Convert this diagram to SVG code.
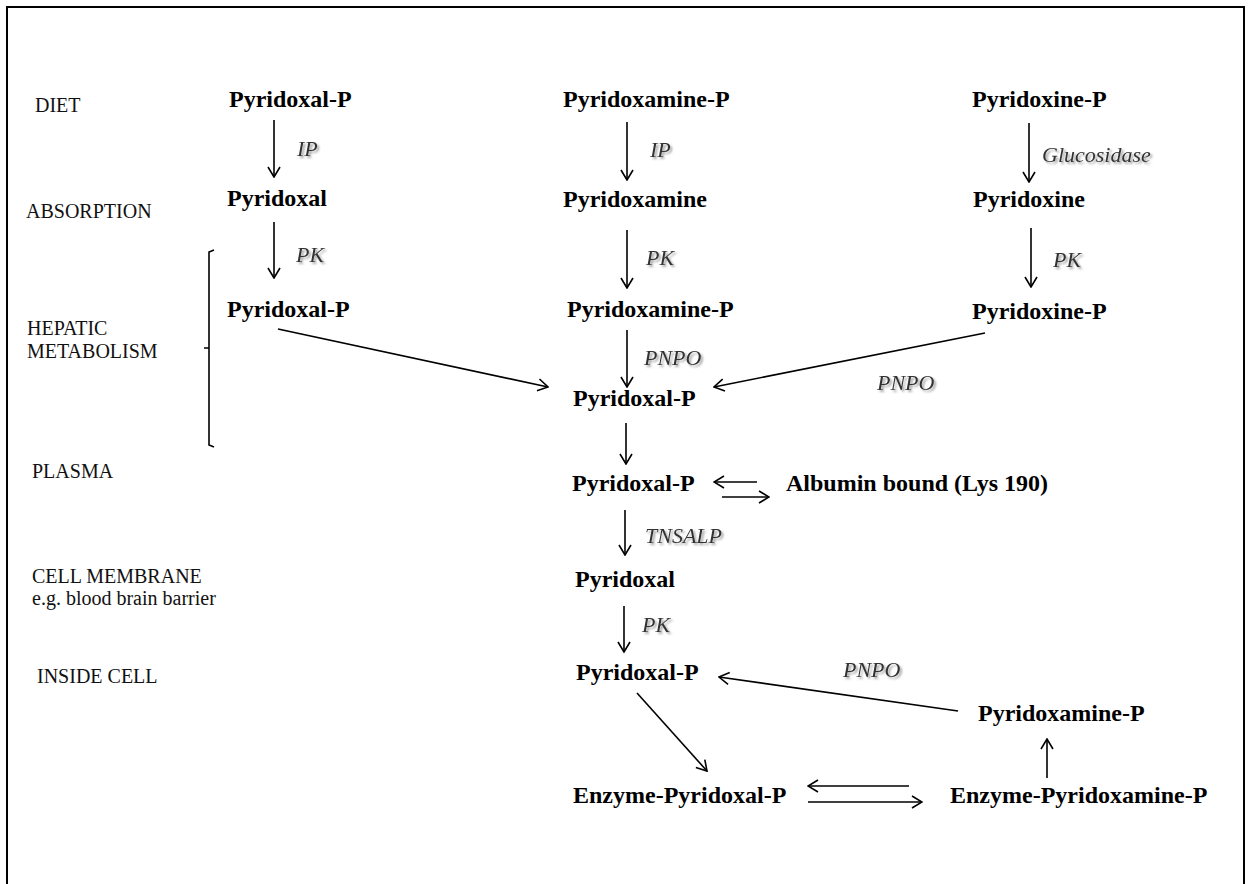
<svg xmlns="http://www.w3.org/2000/svg" width="1252" height="884" viewBox="0 0 1252 884">
<defs>
<style>
.n{font-family:"Liberation Serif","Times New Roman",serif;font-weight:bold;font-size:24px;fill:#000}
.s{font-family:"Liberation Serif","Times New Roman",serif;font-size:20px;fill:#111}
.e{font-family:"Liberation Serif","Times New Roman",serif;font-style:italic;font-size:22px;fill:#333;filter:url(#sh)}
.c line,.c path{stroke:#000;stroke-width:1.6;fill:none}
.c line{marker-end:url(#ah)}
</style>
<filter id="sh" x="-20%" y="-40%" width="150%" height="190%">
<feDropShadow dx="2" dy="2" stdDeviation="1.2" flood-color="#888" flood-opacity="0.8"/>
</filter>
<marker id="ah" viewBox="0 0 12 14" refX="11" refY="7" markerWidth="12" markerHeight="14" markerUnits="userSpaceOnUse" orient="auto">
<path d="M1,1 L11,7 L1,13" fill="none" stroke="#000" stroke-width="1.6"/>
</marker>
</defs>
<rect x="0" y="0" width="1252" height="884" fill="#fff"/>
<rect x="7" y="7" width="1237" height="900" fill="none" stroke="#000" stroke-width="2"/>

<g id="stages">
<text class="s" x="35" y="112">DIET</text>
<text class="s" x="26" y="218">ABSORPTION</text>
<text class="s" x="27" y="335">HEPATIC</text>
<text class="s" x="27" y="358">METABOLISM</text>
<text class="s" x="32" y="478">PLASMA</text>
<text class="s" x="32" y="583">CELL MEMBRANE</text>
<text class="s" x="32" y="605">e.g. blood brain barrier</text>
<text class="s" x="37" y="683">INSIDE CELL</text>
</g>

<g id="bracket" class="c">
<path d="M214,250 L209,252 L209,445 L214,447 M209,348 L204,348"/>
</g>

<g id="col1">
<g id="n-pl-p-diet"><text class="n" x="229" y="107">Pyridoxal-P</text></g>
<g id="n-pl-abs"><text class="n" x="227" y="206">Pyridoxal</text></g>
<g id="n-pl-p-hep"><text class="n" x="227" y="317">Pyridoxal-P</text></g>
</g>
<g id="col2">
<g id="n-pm-p-diet"><text class="n" x="563" y="107">Pyridoxamine-P</text></g>
<g id="n-pm-abs"><text class="n" x="563" y="207">Pyridoxamine</text></g>
<g id="n-pm-p-hep"><text class="n" x="567" y="317">Pyridoxamine-P</text></g>
<g id="n-plp-hep"><text class="n" x="573" y="406">Pyridoxal-P</text></g>
<g id="n-plp-plasma"><text class="n" x="572" y="491">Pyridoxal-P</text></g>
<g id="n-albumin"><text class="n" x="786" y="491">Albumin bound (Lys 190)</text></g>
<g id="n-pl-mem"><text class="n" x="575" y="587">Pyridoxal</text></g>
<g id="n-plp-cell"><text class="n" x="576" y="680">Pyridoxal-P</text></g>
<g id="n-pmp-cell"><text class="n" x="978" y="721">Pyridoxamine-P</text></g>
<g id="n-enz-plp"><text class="n" x="573" y="803">Enzyme-Pyridoxal-P</text></g>
<g id="n-enz-pmp"><text class="n" x="950" y="803">Enzyme-Pyridoxamine-P</text></g>
</g>
<g id="col3">
<g id="n-pn-p-diet"><text class="n" x="972" y="107">Pyridoxine-P</text></g>
<g id="n-pn-abs"><text class="n" x="973" y="207">Pyridoxine</text></g>
<g id="n-pn-p-hep"><text class="n" x="972" y="319">Pyridoxine-P</text></g>
</g>

<g id="connectors" class="c">
<line x1="274" y1="120" x2="274" y2="177"/>
<line x1="274" y1="222" x2="274" y2="278"/>
<line x1="627" y1="122" x2="627" y2="180"/>
<line x1="627" y1="230" x2="627" y2="288"/>
<line x1="627" y1="330" x2="627" y2="387"/>
<line x1="1029" y1="123" x2="1029" y2="182"/>
<line x1="1031" y1="228" x2="1031" y2="287"/>
<line x1="278" y1="329" x2="548" y2="387"/>
<line x1="985" y1="333" x2="714" y2="387"/>
<line x1="626" y1="423" x2="626" y2="464"/>
<line x1="757" y1="482" x2="714" y2="482"/>
<line x1="722" y1="497" x2="769" y2="497"/>
<line x1="625" y1="510" x2="625" y2="555"/>
<line x1="624" y1="606" x2="624" y2="652"/>
<line x1="958" y1="711" x2="719" y2="677"/>
<line x1="637" y1="693" x2="707" y2="771"/>
<line x1="909" y1="786" x2="808" y2="786"/>
<line x1="808" y1="802" x2="922" y2="802"/>
<line x1="1047" y1="778" x2="1047" y2="739"/>
</g>

<g id="enzymes">
<text class="e" x="297" y="156">IP</text>
<text class="e" x="296" y="262">PK</text>
<text class="e" x="650" y="157">IP</text>
<text class="e" x="646" y="265">PK</text>
<text class="e" x="1042" y="162">Glucosidase</text>
<text class="e" x="1053" y="267">PK</text>
<text class="e" x="644" y="365">PNPO</text>
<text class="e" x="877" y="390">PNPO</text>
<text class="e" x="645" y="543">TNSALP</text>
<text class="e" x="642" y="632">PK</text>
<text class="e" x="843" y="677">PNPO</text>
</g>
</svg>
